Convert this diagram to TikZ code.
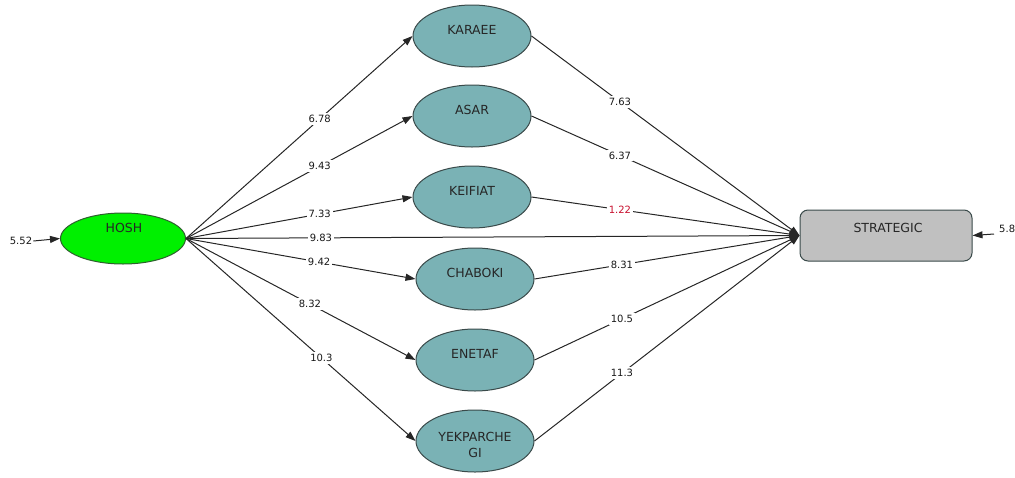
\documentclass[tikz,border=0pt]{standalone}
\usepackage{fontspec}
\setmainfont{DejaVu Sans}
\usetikzlibrary{shapes.geometric,arrows.meta}
\definecolor{tealc}{HTML}{7AB2B5}
\definecolor{hoshg}{HTML}{00F000}
\definecolor{hoshb}{HTML}{2F5F2F}
\definecolor{bordc}{HTML}{3A4A4A}
\definecolor{boxc}{HTML}{C0C0C0}
\definecolor{redc}{HTML}{C8102E}
\tikzset{
  ell/.style={ellipse, draw=bordc, line width=1pt, fill=tealc, minimum width=118pt, minimum height=62pt, inner sep=0pt},
  intext/.style={font=\fontsize{12.5}{15}\selectfont, inner sep=0pt, text=black!85, align=center},
  conn/.style={draw=black!85, line width=1pt},
  arr/.style={conn, -{Triangle[length=10pt,width=7pt]}},
  lbl/.style={fill=white, inner sep=2pt, font=\fontsize{10}{12}\selectfont, text=black!90},
}
\begin{document}
\begin{tikzpicture}[x=1pt,y=-1pt]
\useasboundingbox (0,0) rectangle (1015,477);
\clip (0,0) rectangle (1015,477);
% nodes
\node[ellipse, draw=hoshb, line width=1pt, fill=hoshg, minimum width=125pt, minimum height=51pt, inner sep=0pt] (hosh) at (123,238.5) {};
\node[intext] (hoshT) at (124,228) {HOSH};
\node[ell] (karaee) at (472,36) {};
\node[ell] (asar) at (472,116) {};
\node[ell] (keifiat) at (472,197) {};
\node[ell] (chaboki) at (475,279) {};
\node[ell] (enetaf) at (475,360) {};
\node[ell] (yek) at (475,441) {};
\node[intext, anchor=north] (karaeeT) at ([yshift=-21pt]karaee.north) {KARAEE};
\node[intext, anchor=north] (asarT) at ([yshift=-21pt]asar.north) {ASAR};
\node[intext, anchor=north] (keifiatT) at ([yshift=-21pt]keifiat.north) {KEIFIAT};
\node[intext, anchor=north] (chabokiT) at ([yshift=-21pt]chaboki.north) {CHABOKI};
\node[intext, anchor=north] (enetafT) at ([yshift=-21pt]enetaf.north) {ENETAF};
\node[intext, anchor=north] (yekT) at ([yshift=-23pt]yek.north) {YEKPARCHE\\[1pt]GI};
\node[draw=bordc, line width=1pt, fill=boxc, rounded corners=8pt, minimum width=172pt, minimum height=51pt, inner sep=0pt] (strat) at (886,235.5) {};
\node[intext] (stratT) at (888,228) {STRATEGIC};
% external
\node[lbl, inner sep=1pt] (e1) at (21,241) {5.52};
\draw[arr] (e1.east) -- (hosh.west);
\node[lbl, inner sep=0pt, anchor=west] (e2) at (999,229) {5.8};
\coordinate (e2a) at (994,234);
\draw[arr] (e2a) -- (strat.east);
% HOSH -> factors
\draw[arr] (hosh.east) -- node[lbl, pos=0.59] {6.78} (karaee.west);
\draw[arr] (hosh.east) -- node[lbl, pos=0.59] {9.43} (asar.west);
\draw[arr] (hosh.east) -- node[lbl, pos=0.59] {7.33} (keifiat.west);
\draw[arr] (hosh.east) -- node[lbl, pos=0.58] {9.42} (chaboki.west);
\draw[arr] (hosh.east) -- node[lbl, pos=0.54] {8.32} (enetaf.west);
\draw[arr] (hosh.east) -- node[lbl, pos=0.59] {10.3} (yek.west);
\draw[arr] (hosh.east) -- node[lbl, pos=0.22] {9.83} (strat.west);
% factors -> STRATEGIC
\draw[arr] (karaee.east) -- node[lbl, pos=0.33] {7.63} (strat.west);
\draw[arr] (asar.east) -- node[lbl, pos=0.33] {6.37} (strat.west);
\draw[arr] (keifiat.east) -- node[lbl, pos=0.33, text=redc] {1.22} (strat.west);
\draw[arr] (chaboki.east) -- node[lbl, pos=0.33] {8.31} (strat.west);
\draw[arr] (enetaf.east) -- node[lbl, pos=0.33] {10.5} (strat.west);
\draw[arr] (yek.east) -- node[lbl, pos=0.33] {11.3} (strat.west);
\end{tikzpicture}
\end{document}
